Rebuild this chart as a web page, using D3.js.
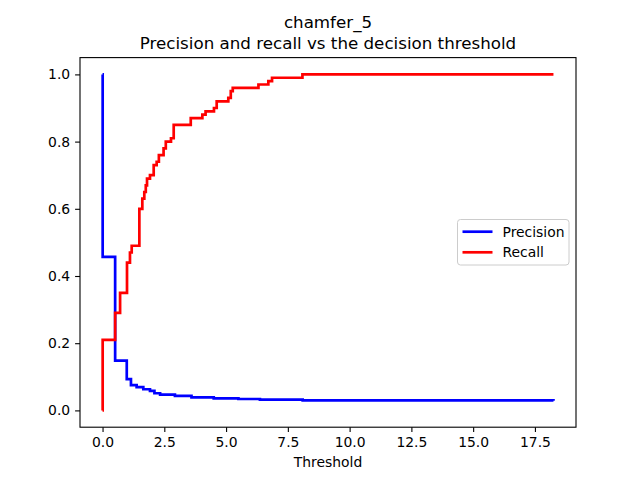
<!DOCTYPE html>
<html>
<head>
<meta charset="utf-8">
<script src="https://cdn.jsdelivr.net/npm/d3@7/dist/d3.min.js"></script>
<style>
  body { margin: 0; background: #fff; }
  svg text { font-family: "DejaVu Sans", sans-serif; fill: #000; }
</style>
</head>
<body>
<script>
// recall (red) steps
var recallX = [0, 0.005, 0.51, 0.71, 0.99, 1.11, 1.18, 1.49, 1.61, 1.69, 1.75, 1.80, 1.92,
  2.07, 2.19, 2.28, 2.47, 2.56, 2.77, 2.88, 3.57, 4.04, 4.17, 4.51, 4.62, 5.09, 5.19, 5.27,
  6.31, 6.71, 6.86, 8.09, 18.25]
var recallY = [0, 0.21, 0.29, 0.35, 0.44, 0.47, 0.49, 0.60, 0.63, 0.65, 0.67, 0.69, 0.70,
  0.73, 0.74, 0.76, 0.78, 0.80, 0.81, 0.85, 0.87, 0.88, 0.89, 0.90, 0.92, 0.93, 0.95, 0.96,
  0.97, 0.98, 0.99, 1.0, 1.0]

// precision (blue)
var precisionX = [0, 0.005, 0.51, 0.98, 1.15, 1.38, 1.65, 1.92, 2.10, 2.33, 2.93, 3.60,
  4.5, 5.5, 6.37, 8.1, 18.25]
var precisionY = [1.0, 0.457, 0.148, 0.093, 0.075, 0.069, 0.063, 0.058, 0.051, 0.047, 0.043,
  0.039, 0.036, 0.034, 0.032, 0.030, 0.029]

var xTicks = [0, 2.5, 5, 7.5, 10, 12.5, 15, 17.5]
var yTicks = [0, 0.2, 0.4, 0.6, 0.8, 1.0]

var W = 640, H = 480
var margin = {left: 80, right: 64, top: 57.6, bottom: 52.8}
var width = W - margin.left - margin.right
var height = H - margin.top - margin.bottom

var svg = d3.select('body').append('svg').attr('width', W).attr('height', H)
var g = svg.append('g').attr('transform', 'translate(' + margin.left + ',' + margin.top + ')')

var xmax = 18.25, pad = xmax * 0.05
var x = d3.scaleLinear().domain([-pad, xmax + pad]).range([0, width])
var y = d3.scaleLinear().domain([-0.05, 1.05]).range([height, 0])

var line = d3.line().curve(d3.curveStepAfter)
  .x(function(d){ return x(d[0]) })
  .y(function(d){ return y(d[1]) })

var precision = precisionX.map(function(v, i){ return [v, precisionY[i]] })
var recall = recallX.map(function(v, i){ return [v, recallY[i]] })

g.append('path').attr('d', line(precision))
  .attr('fill', 'none').attr('stroke', 'blue').attr('stroke-width', 2.7)
g.append('path').attr('d', line(recall))
  .attr('fill', 'none').attr('stroke', 'red').attr('stroke-width', 2.7)

// axes
var xAxis = g.append('g').attr('transform', 'translate(0,' + height + ')')
  .call(d3.axisBottom(x).tickValues(xTicks).tickFormat(d3.format('.1f')).tickSize(4.9).tickPadding(4.9))
var yAxis = g.append('g')
  .call(d3.axisLeft(y).tickValues(yTicks).tickFormat(d3.format('.1f')).tickSize(4.9).tickPadding(4.9))
;[xAxis, yAxis].forEach(function(a){
  a.select('.domain').remove()
  a.selectAll('line').attr('stroke', '#000').attr('stroke-width', 1.1)
  a.selectAll('text').attr('font-size', 13.9).style('font-family', '"DejaVu Sans", sans-serif')
})

g.append('rect').attr('width', width).attr('height', height)
  .attr('fill', 'none').attr('stroke', '#000').attr('stroke-width', 1.1)

// titles
svg.append('text').attr('x', margin.left + width / 2).attr('y', 28)
  .attr('text-anchor', 'middle').attr('font-size', 16.7).text('chamfer_5')
svg.append('text').attr('x', margin.left + width / 2).attr('y', 49)
  .attr('text-anchor', 'middle').attr('font-size', 16.7)
  .text('Precision and recall vs the decision threshold')
svg.append('text').attr('x', margin.left + width / 2).attr('y', 467)
  .attr('text-anchor', 'middle').attr('font-size', 13.9).text('Threshold')

// legend
var legend = svg.append('g').attr('transform', 'translate(457.5,219.5)')
legend.append('rect').attr('width', 111.5).attr('height', 45.5).attr('rx', 3)
  .attr('fill', '#fff').attr('fill-opacity', 0.8).attr('stroke', '#ccc').attr('stroke-width', 1)
var items = [['Precision', 'blue'], ['Recall', 'red']]
items.forEach(function(it, i){
  var ly = 12.2 + i * 20.6
  legend.append('line').attr('x1', 5).attr('x2', 35).attr('y1', ly).attr('y2', ly)
    .attr('stroke', it[1]).attr('stroke-width', 2.7)
  legend.append('text').attr('x', 45).attr('y', ly + 5).attr('font-size', 13.9).text(it[0])
})
</script>
</body>
</html>
